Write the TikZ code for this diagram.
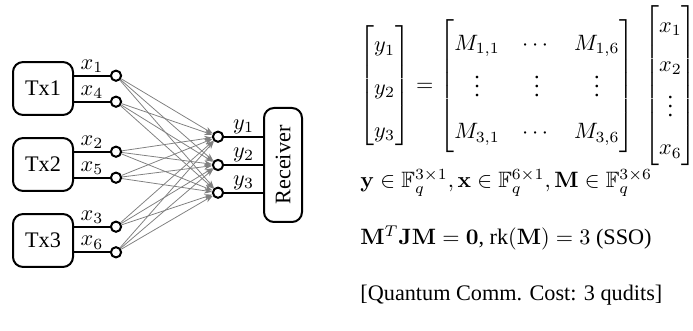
\documentclass[tikz,border=0pt]{standalone}
\usepackage{amsmath,amssymb}
\usepackage[no-math]{fontspec}
\setmainfont{Liberation Serif}
\usetikzlibrary{arrows.meta,positioning}

\begin{document}
\begin{tikzpicture}[x=0.45pt, y=-0.45pt,
		box/.style={draw, line width=0.9pt, rounded corners=4.5pt, minimum width=27pt, minimum height=23.8pt, inner sep=0pt},
		port/.style={draw, circle, line width=0.9pt, fill=white, minimum size=4.6pt, inner sep=0pt},
		wire/.style={line width=0.9pt},
		link/.style={draw=gray, line width=0.35pt, -{Stealth[length=3.5pt, width=2.6pt]}},
		txt/.style={anchor=west, inner sep=0pt}]
	\useasboundingbox (0,0) rectangle (693,331);
	\node[box] (t1) at (43,88.5) {Tx1};
	\node[box] (t2) at (43,164.5) {Tx2};
	\node[box] (t3) at (43,240.5) {Tx3};
	\node[box, rotate=90, minimum width=51.3pt, minimum height=17.1pt] (rx) at (283,165) {Receiver};
	\node[port] (x1) at (116,75.7) {};
	\node[port] (x4) at (116,101.7) {};
	\node[port] (x2) at (116,151.7) {};
	\node[port] (x5) at (116,177.7) {};
	\node[port] (x3) at (116,226.7) {};
	\node[port] (x6) at (116,252.3) {};
	\node[port] (y1) at (218,136.7) {};
	\node[port] (y2) at (218,165) {};
	\node[port] (y3) at (218,192.7) {};
	\draw[wire] (t1.east |- x1) -- node[above, inner sep=1pt] {$x_1$} (x1);
	\draw[wire] (t1.east |- x4) -- node[above, inner sep=1pt] {$x_4$} (x4);
	\draw[wire] (t2.east |- x2) -- node[above, inner sep=1pt] {$x_2$} (x2);
	\draw[wire] (t2.east |- x5) -- node[above, inner sep=1pt] {$x_5$} (x5);
	\draw[wire] (t3.east |- x3) -- node[above, inner sep=1pt] {$x_3$} (x3);
	\draw[wire] (t3.east |- x6) -- node[above, inner sep=1pt] {$x_6$} (x6);
	\draw[wire] (y1) -- node[above, inner sep=1pt] {$y_1$} (y1 -| rx.north);
	\draw[wire] (y2) -- node[above, inner sep=1pt] {$y_2$} (y2 -| rx.north);
	\draw[wire] (y3) -- node[above, inner sep=1pt] {$y_3$} (y3 -| rx.north);
	\foreach \s in {1,...,6}
		\foreach \d in {1,2,3}
			\draw[link] (x\s) -- (y\d);
	% channel equation and constraints
	\node[inner sep=0pt] (eq) at (528,86) {$\renewcommand\arraystretch{1.6}
		\begin{bmatrix} y_1\\ y_2\\ y_3 \end{bmatrix} =
		\begin{bmatrix} M_{1,1} & \cdots & M_{1,6}\\ \vdots & \vdots & \vdots\\ M_{3,1} & \cdots & M_{3,6} \end{bmatrix}\;
		\renewcommand\arraystretch{1.45}
		\begin{bmatrix} x_1\\ x_2\\ \vdots\\ x_6 \end{bmatrix}$};
	\node[txt] (dim) at (360,183) {$\mathbf{y}\in\mathbb{F}_q^{3\times 1},\mathbf{x}\in\mathbb{F}_q^{6\times 1},\mathbf{M}\in\mathbb{F}_q^{3\times 6}$};
	\node[txt] (sso) at (360,238) {$\mathbf{M}^T\mathbf{J}\mathbf{M}=\mathbf{0}$, rk$(\mathbf{M})=3$ (SSO)};
	\node[txt] (cost) at (360,295) {[Quantum Comm. Cost: 3 qudits]};
\end{tikzpicture}
\end{document}
